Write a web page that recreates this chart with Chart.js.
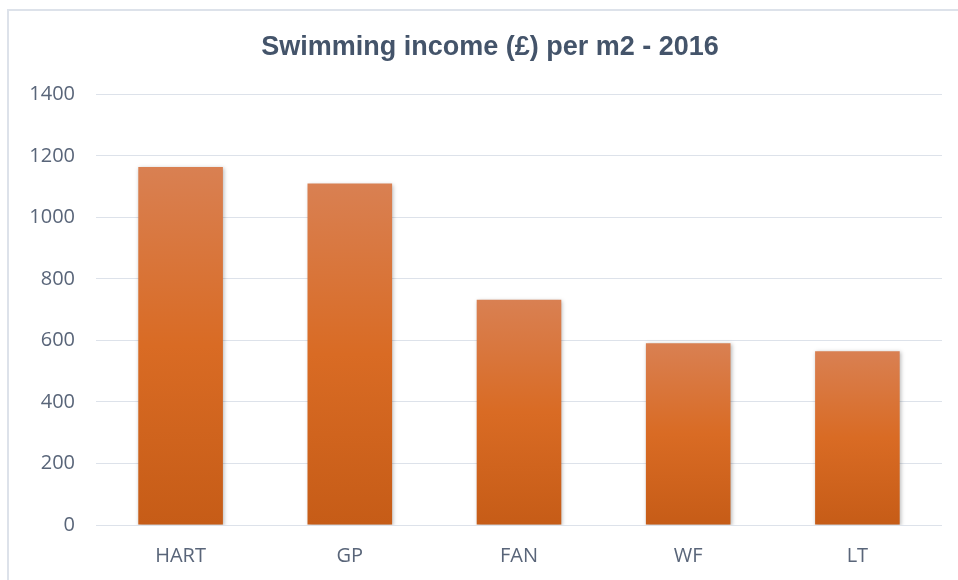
<!DOCTYPE html>
<html>
<head>
<meta charset="utf-8">
<script src="https://cdn.jsdelivr.net/npm/chart.js@4/dist/chart.umd.min.js"></script>
<style>
  html, body { margin: 0; padding: 0; background: #fff; }
  #wrap { position: relative; width: 958px; height: 580px; }
  #frame { position: absolute; left: 7px; top: 9px; right: 0; bottom: 0;
           border-top: 2px solid #DDE2EA; border-left: 2px solid #DDE2EA; pointer-events: none; }
  canvas { position: absolute; left: 0; top: 0; }
</style>
</head>
<body>
<div id="wrap">
  <canvas id="c" width="958" height="580"></canvas>
  <div id="frame"></div>
</div>
<script>
const categories = ["HART", "GP", "FAN", "WF", "LT"];
const incomePerM2 = [1164, 1110, 732, 591, 565];
const yTicks = [0, 200, 400, 600, 800, 1000, 1200, 1400];
const chartTitle = "Swimming income (£) per m2 - 2016";

const textColor = "#596579";

function barGradient(context) {
  const chart = context.chart;
  const yScale = chart.scales.y;
  if (!yScale || context.parsed === undefined) return "#D96B24";
  const top = yScale.getPixelForValue(context.parsed.y);
  const bottom = yScale.getPixelForValue(0);
  if (!isFinite(top) || !isFinite(bottom) || top === bottom) return "#D96B24";
  const g = chart.ctx.createLinearGradient(0, top, 0, bottom);
  g.addColorStop(0, "#D98052");
  g.addColorStop(0.5, "#D96B24");
  g.addColorStop(1, "#C65C17");
  return g;
}

const shadowPlugin = {
  id: "barShadow",
  beforeDatasetDraw(chart) {
    const ctx = chart.ctx;
    ctx.save();
    ctx.shadowColor = "rgba(0,0,0,0.28)";
    ctx.shadowBlur = 4;
    ctx.shadowOffsetX = 1;
    ctx.shadowOffsetY = 1;
  },
  afterDatasetDraw(chart) {
    chart.ctx.restore();
  }
};

new Chart(document.getElementById("c"), {
  type: "bar",
  data: {
    labels: categories,
    datasets: [{
      data: incomePerM2,
      backgroundColor: barGradient,
      borderWidth: 0,
      barPercentage: 0.5,
      categoryPercentage: 1.0
    }]
  },
  plugins: [shadowPlugin],
  options: {
    responsive: false,
    animation: false,
    layout: { padding: { left: 22, right: 0, top: 0, bottom: 0 } },
    plugins: {
      legend: { display: false },
      tooltip: { enabled: false },
      title: {
        display: true,
        text: chartTitle,
        color: "#44546A",
        font: { family: "'Liberation Sans', Arial, sans-serif", size: 27, weight: "bold" },
        padding: { top: 31, bottom: 31 }
      }
    },
    scales: {
      x: {
        grid: { display: false, drawTicks: false },
        border: { display: false },
        ticks: {
          color: textColor,
          padding: 19,
          font: { family: "'Open Sans', sans-serif", size: 20 }
        },
        afterFit(scale) { scale.height = 55; }
      },
      y: {
        min: 0,
        max: 1400,
        afterBuildTicks(scale) { scale.ticks = yTicks.map(v => ({ value: v })); },
        grid: { color: "#DDE2EA", lineWidth: 1, drawTicks: false },
        border: { display: false },
        ticks: {
          color: textColor,
          padding: 21,
          font: { family: "'Open Sans', sans-serif", size: 20 },
          callback: (v) => String(v)
        },
        afterFit(scale) { scale.width = 74; }
      },
      y2: {
        type: "linear",
        position: "right",
        min: 0,
        max: 1400,
        grid: { display: false, drawTicks: false },
        border: { display: false },
        ticks: { display: false },
        afterFit(scale) { scale.width = 16; }
      }
    }
  }
});
</script>
</body>
</html>
